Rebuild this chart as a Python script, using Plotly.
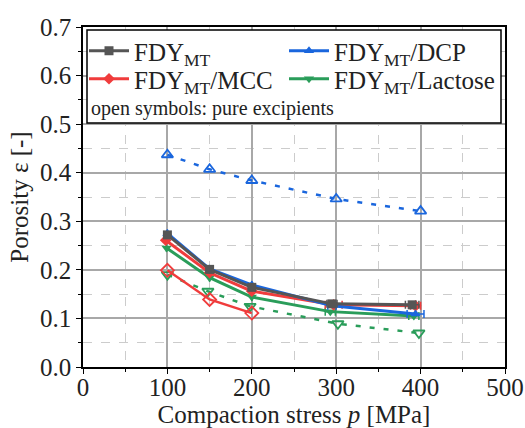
import plotly.graph_objects as go

# ---- data ----
x_fdy = [100, 150, 200, 295, 390]
y_fdy = [0.272, 0.201, 0.164, 0.130, 0.128]
ex_fdy = [0, 0, 0, 6, 8]

x_dcp = [100, 150, 200, 295, 394]
y_dcp = [0.275, 0.202, 0.169, 0.126, 0.109]
ex_dcp = [0, 0, 0, 5, 10]

x_mcc = [98, 150, 200, 297, 394]
y_mcc = [0.261, 0.194, 0.156, 0.128, 0.126]
ex_mcc = [0, 0, 0, 10, 6]

x_lac = [99, 150, 200, 293, 392]
y_lac = [0.245, 0.184, 0.144, 0.114, 0.105]
ex_lac = [0, 0, 0, 6, 6]

x_mcc_pure = [100, 150, 200]
y_mcc_pure = [0.199, 0.139, 0.111]

x_lac_pure = [100, 148, 198, 302, 398]
y_lac_pure = [0.190, 0.156, 0.125, 0.089, 0.070]

x_dcp_pure = [100, 150, 200, 300, 400]
y_dcp_pure = [0.437, 0.407, 0.384, 0.346, 0.321]

GRAY = "#555555"
RED = "#f03c3c"
BLUE = "#1a66dd"
GREEN = "#2a9d5a"
FONT = "Liberation Serif"

# plot area target: x 83..505, y 27..367
L, T, PW, PH = 83, 27, 422, 340
W, H = 525, 428


def px_x(p):
    return (p - 83) / PW


def px_y(p):
    return 1 - (p - 27) / PH


fig = go.Figure()


def filled(x, y, ex, name, color, symbol, legend):
    fig.add_trace(go.Scatter(
        x=x, y=y, name=name, mode="lines+markers", legend=legend,
        line=dict(color=color, width=3),
        marker=dict(symbol=symbol, size=9, color=color),
        error_x=dict(type="data", array=ex, color=color, thickness=1.5, width=4),
    ))


def pure(x, y, color, symbol):
    fig.add_trace(go.Scatter(
        x=x, y=y, mode="lines+markers", showlegend=False,
        line=dict(color=color, width=2.5, dash="5px,9px"),
        marker=dict(symbol=symbol, size=10, color=color, line=dict(width=1.8, color=color)),
    ))


pure(x_dcp_pure, y_dcp_pure, BLUE, "triangle-up-open")
pure(x_lac_pure, y_lac_pure, GREEN, "triangle-down-open")
fig.add_trace(go.Scatter(
    x=x_mcc_pure, y=y_mcc_pure, mode="lines+markers", showlegend=False,
    line=dict(color=RED, width=2.5),
    marker=dict(symbol="diamond-open", size=10, color=RED, line=dict(width=1.8, color=RED)),
))

filled(x_lac, y_lac, ex_lac, "FDY<sub>MT</sub>/Lactose", GREEN, "triangle-down", "legend4")
filled(x_mcc, y_mcc, ex_mcc, "FDY<sub>MT</sub>/MCC", RED, "diamond", "legend3")
filled(x_dcp, y_dcp, ex_dcp, "FDY<sub>MT</sub>/DCP", BLUE, "triangle-up", "legend2")
filled(x_fdy, y_fdy, ex_fdy, "FDY<sub>MT</sub>", GRAY, "square", "legend")

axis_common = dict(
    showline=True, linecolor="black", linewidth=1.5, mirror=True,
    ticks="outside", ticklen=5, tickwidth=1.2, tickcolor="black",
    showgrid=True, gridcolor="#a8a8a8", gridwidth=1.5,
    tickfont=dict(family=FONT, size=25, color="#222"),
    zeroline=False, automargin=False,
)

fig.update_xaxes(
    range=[0, 500], dtick=100, ticklabelstandoff=-8,
    minor=dict(dtick=50, showgrid=True, gridcolor="#cccccc", griddash="dash",
               gridwidth=1, ticks="outside", ticklen=3, tickcolor="black"),
    title=dict(text="Compaction stress <i>p</i> [MPa]", font=dict(family=FONT, size=25, color="#222"), standoff=0),
    **axis_common,
)
fig.update_yaxes(
    range=[0, 0.7], dtick=0.1, tickformat=".1f",
    minor=dict(dtick=0.05, showgrid=True, gridcolor="#cccccc", griddash="dash",
               gridwidth=1, ticks="outside", ticklen=3, tickcolor="black"),
    title=dict(text="Porosity ε [-]", font=dict(family=FONT, size=25, color="#222"), standoff=4),
    **axis_common,
)

# legend box
fig.add_shape(type="rect", xref="paper", yref="paper",
              x0=px_x(87), x1=px_x(501), y0=px_y(123), y1=px_y(30),
              fillcolor="white", line=dict(color="black", width=1.5), layer="above")
fig.add_annotation(text="open symbols: pure excipients", xref="paper", yref="paper",
                   x=px_x(89), y=px_y(108), xanchor="left", yanchor="middle",
                   showarrow=False, font=dict(family=FONT, size=20, color="#222"))

leg_common = dict(xanchor="left", yanchor="top", bgcolor="rgba(0,0,0,0)", borderwidth=0,
                  font=dict(family=FONT, size=25, color="#222"), itemwidth=40)

fig.update_layout(
    width=W, height=H,
    margin=dict(l=L, r=W - L - PW, t=T, b=H - T - PH),
    plot_bgcolor="white", paper_bgcolor="white",
    showlegend=True,
    legend=dict(x=px_x(84), y=px_y(28), **leg_common),
    legend2=dict(x=px_x(284), y=px_y(28), **leg_common),
    legend3=dict(x=px_x(84), y=px_y(56), **leg_common),
    legend4=dict(x=px_x(284), y=px_y(56), **leg_common),
)

fig.write_html("out.html", config={"displayModeBar": False},
               post_script="document.body.style.margin='0px';")
